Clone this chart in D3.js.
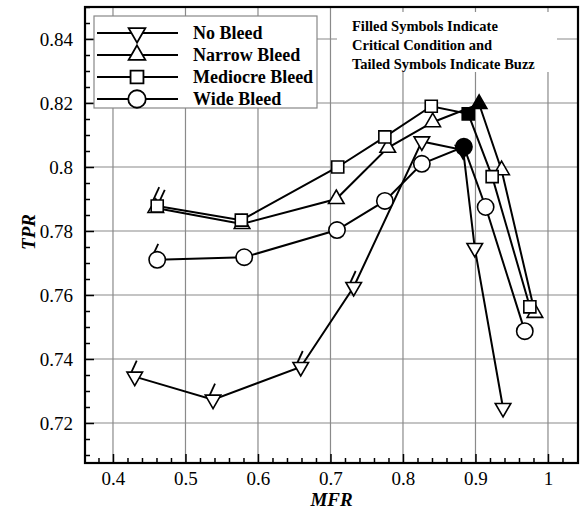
<!DOCTYPE html>
<html>
<head>
<meta charset="utf-8">
<script src="https://cdn.jsdelivr.net/npm/d3@7"></script>
<style>
  body { margin: 0; background: #fff; }
  svg { font-family: "Liberation Serif", "Times New Roman", serif; }
</style>
</head>
<body>
<div id="chart"></div>
<script>
// values
var mfrNo = [0.430, 0.538, 0.659, 0.732, 0.826, 0.883, 0.899, 0.938];
var tprNo = [0.7345, 0.7273, 0.7375, 0.7625, 0.8080, 0.8053, 0.7747, 0.7247];
var mfrNarrow = [0.459, 0.578, 0.708, 0.779, 0.841, 0.905, 0.936, 0.982];
var tprNarrow = [0.7872, 0.7822, 0.7900, 0.8060, 0.8140, 0.8197, 0.7990, 0.7544];
var mfrMed = [0.461, 0.577, 0.710, 0.775, 0.839, 0.890, 0.923, 0.975];
var tprMed = [0.7878, 0.7834, 0.8000, 0.8094, 0.8190, 0.8166, 0.7970, 0.7563];
var mfrWide = [0.461, 0.581, 0.709, 0.775, 0.826, 0.884, 0.914, 0.968];
var tprWide = [0.7710, 0.7718, 0.7803, 0.7894, 0.8010, 0.8063, 0.7875, 0.7487];

// index of the filled (critical) point, indices of tailed (buzz) points
var criticalNo = 5, criticalNarrow = 5, criticalMed = 5, criticalWide = 5;
var buzzNo = [0, 1, 2, 3], buzzNarrow = [0], buzzMed = [0], buzzWide = [0];

var seriesNames = ['No Bleed', 'Narrow Bleed', 'Mediocre Bleed', 'Wide Bleed'];
var xTicks = [0.4, 0.5, 0.6, 0.7, 0.8, 0.9, 1];
var yTicks = [0.72, 0.74, 0.76, 0.78, 0.8, 0.82, 0.84];
var noteLines = ['Filled Symbols Indicate', 'Critical Condition and', 'Tailed Symbols Indicate Buzz'];

var w = 581, h = 509,
  mLeft = 85, mRight = 578, mTop = 7, mBottom = 463;

var x = d3.scaleLinear().domain([0.3614, 1.0414]).range([mLeft, mRight]);
var y = d3.scaleLinear().domain([0.7075, 0.85]).range([mBottom, mTop]);

var series = [
  {name: seriesNames[0], mfr: mfrNo, tpr: tprNo, crit: criticalNo, buzz: buzzNo, shape: 'down', tail: [-4, -3]},
  {name: seriesNames[1], mfr: mfrNarrow, tpr: tprNarrow, crit: criticalNarrow, buzz: buzzNarrow, shape: 'up', tail: [3, -5]},
  {name: seriesNames[2], mfr: mfrMed, tpr: tprMed, crit: criticalMed, buzz: buzzMed, shape: 'square', tail: [-4, -6]},
  {name: seriesNames[3], mfr: mfrWide, tpr: tprWide, crit: criticalWide, buzz: buzzWide, shape: 'circle', tail: [-5, -3]}
];

function symbolPath(shape, scale) {
  scale = scale || 1;
  if (shape === 'circle') return d3.symbol(d3.symbolCircle, 210 * scale)();
  if (shape === 'square') return d3.symbol(d3.symbolSquare, 145 * scale)();
  return d3.symbol(d3.symbolTriangle, 105 * scale)();
}
function symbolTransform(shape, px, py) {
  return 'translate(' + px + ',' + py + ')' + (shape === 'down' ? ' rotate(180)' : '');
}

var chart = d3.select('#chart').append('svg')
  .attr('width', w).attr('height', h);

// grid
var grid = chart.append('g').attr('stroke', '#8a8a8a').attr('stroke-width', 1.2);
grid.selectAll('.vx').data(xTicks).enter().append('line')
  .attr('x1', function(d) { return x(d); }).attr('x2', function(d) { return x(d); })
  .attr('y1', mTop).attr('y2', mBottom);
grid.selectAll('.hy').data(yTicks).enter().append('line')
  .attr('x1', mLeft).attr('x2', mRight)
  .attr('y1', function(d) { return y(d); }).attr('y2', function(d) { return y(d); });

// axes, ticks pointing into the plot
var xAxis = d3.axisBottom(x).tickValues(xTicks).tickSize(-9).tickPadding(9)
  .tickFormat(d3.format('~g'));
var yAxis = d3.axisLeft(y).tickValues(yTicks).tickSize(-9).tickPadding(12)
  .tickFormat(d3.format('~g'));
var xMinor = d3.range(0.38, 1.04, 0.02).filter(function(v) { return Math.abs(v * 10 - Math.round(v * 10)) > 0.01; });
var yMinor = d3.range(0.71, 0.85, 0.005).filter(function(v) { return Math.abs(v * 50 - Math.round(v * 50)) > 0.01; });

chart.append('g').attr('transform', 'translate(0,' + mBottom + ')').call(xAxis);
chart.append('g').attr('transform', 'translate(' + mLeft + ',0)').call(yAxis);
chart.append('g').attr('transform', 'translate(0,' + mBottom + ')')
  .call(d3.axisBottom(x).tickValues(xMinor).tickSize(-5).tickFormat(''));
chart.append('g').attr('transform', 'translate(' + mLeft + ',0)')
  .call(d3.axisLeft(y).tickValues(yMinor).tickSize(-5).tickFormat(''));
chart.selectAll('.domain').remove();
chart.selectAll('.tick line').attr('stroke', '#000').attr('stroke-width', 1.5);
chart.selectAll('.tick text').attr('font-size', 19).attr('fill', '#000')
  .attr('font-family', '"Liberation Serif", serif');

// frame
chart.append('rect').attr('x', mLeft).attr('y', mTop)
  .attr('width', mRight - mLeft).attr('height', mBottom - mTop)
  .attr('fill', 'none').attr('stroke', '#000').attr('stroke-width', 2.2);

// axis titles
chart.append('text').attr('x', (mLeft + mRight) / 2).attr('y', 506)
  .attr('text-anchor', 'middle').attr('font-size', 19)
  .attr('font-weight', 'bold').attr('font-style', 'italic').text('MFR');
chart.append('text').attr('transform', 'translate(35,232) rotate(-90)')
  .attr('text-anchor', 'middle').attr('font-size', 19)
  .attr('font-weight', 'bold').attr('font-style', 'italic').text('TPR');

// lines
var line = d3.line()
  .x(function(d) { return x(d[0]); })
  .y(function(d) { return y(d[1]); });

var plot = chart.append('g');
series.forEach(function(s) {
  var pts = d3.zip(s.mfr, s.tpr);
  plot.append('path').attr('d', line(pts))
    .attr('fill', 'none').attr('stroke', '#000').attr('stroke-width', 2);
});

// tails and symbols
series.forEach(function(s) {
  var pts = d3.zip(s.mfr, s.tpr);
  s.buzz.forEach(function(i) {
    var px = x(pts[i][0]) + s.tail[0], py = y(pts[i][1]) + s.tail[1];
    plot.append('line').attr('x1', px).attr('y1', py)
      .attr('x2', px + 6).attr('y2', py - 13)
      .attr('stroke', '#000').attr('stroke-width', 1.8);
  });
  plot.selectAll(null).data(pts).enter().append('path')
    .attr('d', symbolPath(s.shape))
    .attr('transform', function(d) { return symbolTransform(s.shape, x(d[0]), y(d[1])); })
    .attr('fill', function(d, i) { return i === s.crit ? '#000' : '#fff'; })
    .attr('stroke', '#000').attr('stroke-width', 1.6);
});

// legend
var legend = chart.append('g');
legend.append('rect').attr('x', 94).attr('y', 16).attr('width', 223).attr('height', 92)
  .attr('fill', '#fff').attr('stroke', '#888').attr('stroke-width', 1.2);
series.forEach(function(s, i) {
  var ly = 33 + i * 22;
  legend.append('line').attr('x1', 97).attr('x2', 178).attr('y1', ly).attr('y2', ly)
    .attr('stroke', '#000').attr('stroke-width', 2);
  legend.append('path').attr('d', symbolPath(s.shape, 1.15))
    .attr('transform', symbolTransform(s.shape, 137, ly))
    .attr('fill', '#fff').attr('stroke', '#000').attr('stroke-width', 1.8);
  legend.append('text').attr('x', 193).attr('y', ly + 6)
    .attr('font-size', 18).attr('font-weight', 'bold').text(s.name);
});

// note
chart.append('rect').attr('x', 337).attr('y', 12).attr('width', 220).attr('height', 60)
  .attr('fill', '#fff');
chart.selectAll('.note').data(noteLines).enter().append('text')
  .attr('x', 352).attr('y', function(d, i) { return 31 + i * 19; })
  .attr('font-size', 14.5).attr('font-weight', 'bold').text(function(d) { return d; });
</script>
</body>
</html>
